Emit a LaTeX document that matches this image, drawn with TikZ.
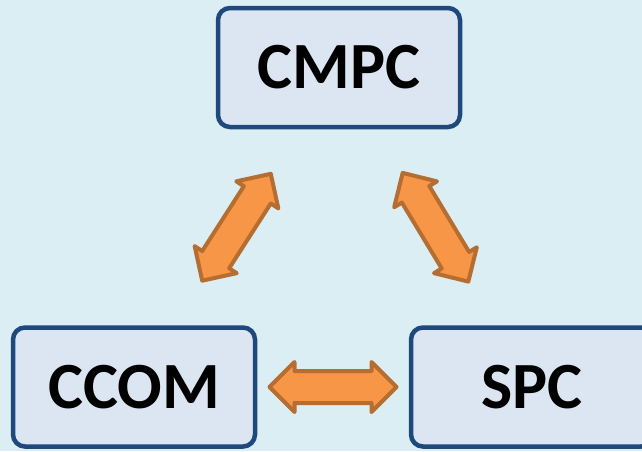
\documentclass[tikz,border=0pt]{standalone}
\usepackage{fontspec}
\setmainfont{Carlito}
\usetikzlibrary{shapes.arrows}

\definecolor{bgblue}{HTML}{DBEEF4}
\definecolor{boxfill}{HTML}{DCE6F2}
\definecolor{boxline}{HTML}{1F497D}
\definecolor{arrowfill}{HTML}{F79646}
\definecolor{arrowline}{HTML}{B66D31}

\tikzset{
    unit/.style={draw=boxline, fill=boxfill, line width=4.5pt, rounded corners=12pt,
        minimum width=242pt, minimum height=119pt, inner sep=0pt,
        font=\fontsize{66}{74}\selectfont\bfseries},
    link/.style={double arrow, draw=arrowline, fill=arrowfill, line width=4pt,
        line join=round, inner sep=14pt, minimum height=127pt,
        double arrow head extend=9pt, sloped}
}

\begin{document}
\begin{tikzpicture}[x=1pt, y=-1pt]

        \path[use as bounding box, fill=bgblue] (0,0) rectangle (642,451);

        \node (cmpc) [unit] at (339,67.5) {CMPC};
        \node (ccom) [unit] at (134,387) {CCOM};
        \node (spc) [unit] at (532,387) {SPC};

        \path (ccom) -- node (ccomcmpc) [link] {} (cmpc);
        \path (cmpc) -- node (cmpcspc) [link] {} (spc);
        \path (ccom) -- node (ccomspc) [link] {} (spc);

    \end{tikzpicture}
\end{document}
